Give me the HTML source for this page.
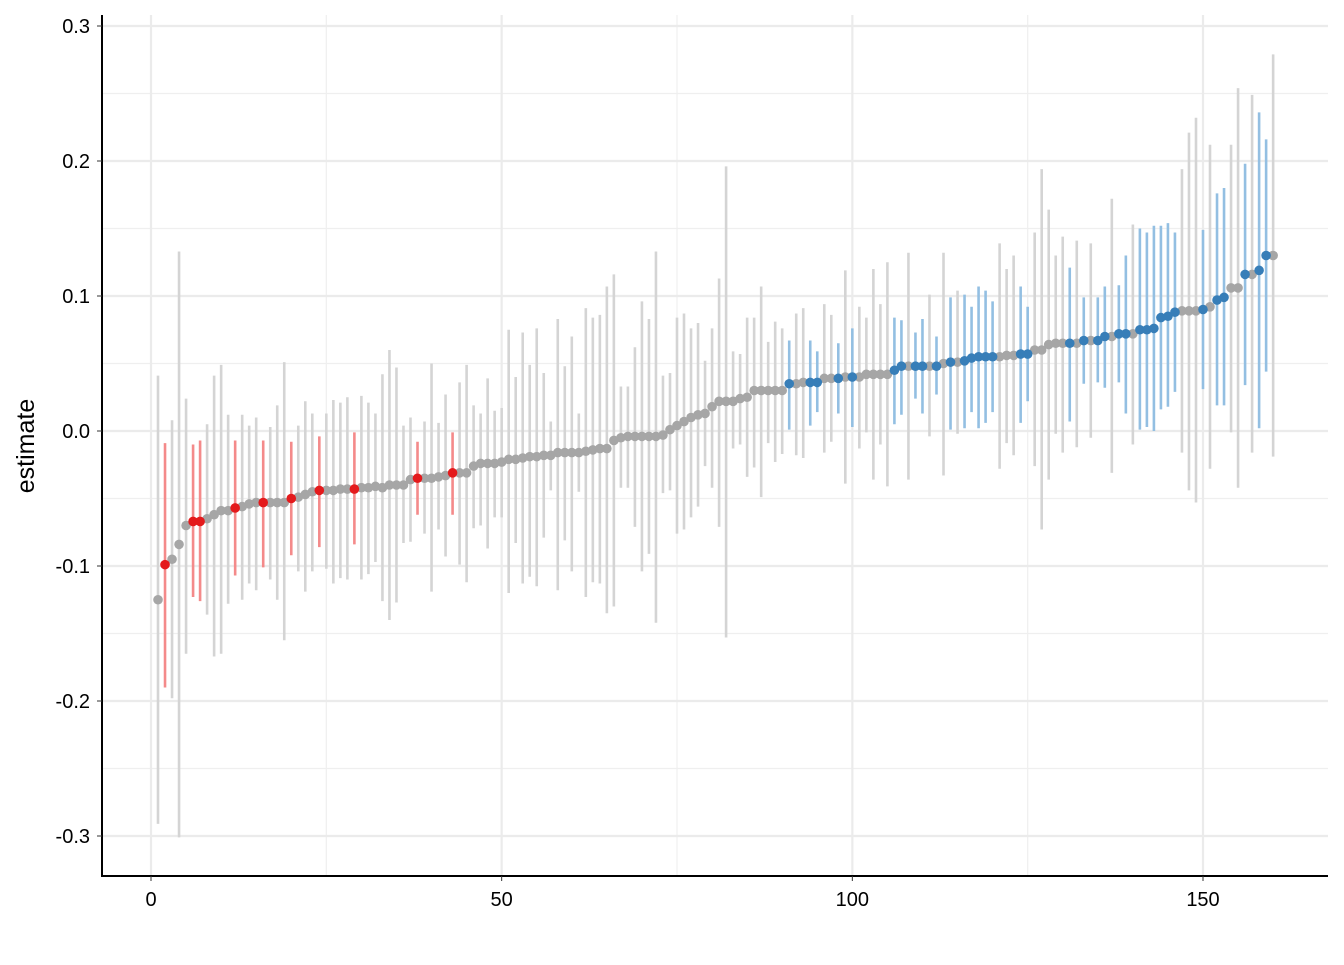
<!DOCTYPE html>
<html><head><meta charset="utf-8"><style>
body{margin:0;background:#fff;}
svg text{font-family:"Liberation Sans",sans-serif;}
</style></head><body>
<svg id="chart" width="1344" height="960" xmlns="http://www.w3.org/2000/svg"></svg>
<script>
const est=[-0.125,-0.099,-0.095,-0.084,-0.070,-0.067,-0.067,-0.065,-0.062,-0.059,-0.059,-0.057,-0.056,-0.054,-0.053,-0.053,-0.053,-0.053,-0.053,-0.050,-0.049,-0.047,-0.045,-0.044,-0.044,-0.044,-0.043,-0.043,-0.043,-0.042,-0.042,-0.041,-0.042,-0.040,-0.040,-0.040,-0.036,-0.035,-0.035,-0.035,-0.034,-0.033,-0.031,-0.031,-0.031,-0.026,-0.024,-0.024,-0.024,-0.023,-0.021,-0.021,-0.020,-0.019,-0.019,-0.018,-0.018,-0.016,-0.016,-0.016,-0.016,-0.015,-0.014,-0.013,-0.013,-0.007,-0.005,-0.004,-0.004,-0.004,-0.004,-0.004,-0.003,0.001,0.004,0.007,0.010,0.012,0.013,0.018,0.022,0.022,0.022,0.024,0.025,0.030,0.030,0.030,0.030,0.030,0.035,0.035,0.036,0.036,0.036,0.039,0.039,0.039,0.040,0.040,0.040,0.042,0.042,0.042,0.042,0.045,0.048,0.048,0.048,0.048,0.048,0.048,0.050,0.051,0.051,0.052,0.054,0.055,0.055,0.055,0.055,0.056,0.056,0.057,0.057,0.060,0.060,0.064,0.065,0.065,0.065,0.065,0.067,0.067,0.067,0.070,0.070,0.072,0.072,0.072,0.075,0.075,0.076,0.084,0.085,0.088,0.089,0.089,0.089,0.090,0.092,0.097,0.099,0.106,0.106,0.116,0.116,0.119,0.130,0.130];
const lower=[-0.291,-0.190,-0.198,-0.301,-0.165,-0.123,-0.126,-0.136,-0.167,-0.165,-0.128,-0.107,-0.125,-0.113,-0.118,-0.101,-0.110,-0.125,-0.155,-0.092,-0.104,-0.119,-0.104,-0.086,-0.102,-0.113,-0.109,-0.110,-0.084,-0.110,-0.106,-0.097,-0.126,-0.140,-0.127,-0.083,-0.082,-0.062,-0.076,-0.119,-0.073,-0.093,-0.062,-0.099,-0.112,-0.072,-0.070,-0.087,-0.064,-0.064,-0.120,-0.083,-0.113,-0.108,-0.115,-0.079,-0.044,-0.118,-0.081,-0.104,-0.045,-0.123,-0.112,-0.113,-0.135,-0.130,-0.042,-0.042,-0.071,-0.104,-0.091,-0.142,-0.046,-0.044,-0.076,-0.073,-0.064,-0.056,-0.026,-0.042,-0.071,-0.153,-0.013,-0.010,-0.034,-0.027,-0.049,-0.009,-0.023,-0.017,0.001,-0.018,-0.020,0.004,0.014,-0.016,-0.008,0.013,-0.039,0.003,-0.013,-0.001,-0.036,-0.010,-0.041,0.005,0.012,-0.036,0.024,0.013,-0.004,0.027,-0.033,0.001,-0.002,0.002,0.014,0.002,0.006,0.014,-0.028,-0.009,-0.018,0.006,0.022,-0.026,-0.073,-0.036,-0.002,-0.016,0.007,-0.012,0.035,-0.005,0.036,0.032,-0.031,0.036,0.013,-0.010,0.001,0.003,0.000,0.016,0.018,0.029,-0.016,-0.044,-0.053,0.031,-0.028,0.019,0.019,-0.001,-0.042,0.034,-0.016,0.002,0.044,-0.019];
const upper=[0.041,-0.009,0.008,0.133,0.024,-0.010,-0.007,0.005,0.041,0.049,0.012,-0.007,0.012,0.004,0.010,-0.007,0.003,0.019,0.051,-0.008,0.004,0.022,0.013,-0.004,0.013,0.023,0.021,0.025,-0.001,0.026,0.021,0.013,0.042,0.060,0.047,0.004,0.010,-0.008,0.007,0.050,0.006,0.027,-0.001,0.036,0.049,0.019,0.013,0.039,0.015,0.017,0.075,0.040,0.073,0.049,0.076,0.043,0.007,0.083,0.048,0.070,0.013,0.091,0.084,0.086,0.107,0.116,0.033,0.033,0.062,0.096,0.083,0.133,0.041,0.043,0.084,0.087,0.076,0.080,0.052,0.076,0.113,0.196,0.059,0.057,0.084,0.084,0.107,0.066,0.081,0.076,0.067,0.087,0.091,0.067,0.059,0.094,0.086,0.065,0.119,0.076,0.092,0.084,0.120,0.094,0.125,0.084,0.082,0.132,0.073,0.083,0.101,0.070,0.132,0.099,0.104,0.101,0.092,0.107,0.104,0.096,0.139,0.120,0.130,0.107,0.092,0.147,0.194,0.164,0.130,0.144,0.121,0.141,0.099,0.139,0.099,0.107,0.172,0.108,0.130,0.153,0.150,0.147,0.152,0.152,0.154,0.147,0.194,0.221,0.232,0.149,0.212,0.176,0.180,0.212,0.254,0.198,0.249,0.236,0.216,0.279];
const redIdx=[2,6,7,12,16,20,24,29,38,43];
const blueIdx=[91,94,95,98,100,106,107,109,110,112,114,116,117,118,119,120,124,125,131,133,135,136,138,139,141,142,143,144,145,146,150,152,153,156,158,159];
const xTicks=[0,50,100,150];
const yTicks=[-0.3,-0.2,-0.1,0.0,0.1,0.2,0.3];
const yTickLabels=["-0.3","-0.2","-0.1","0.0","0.1","0.2","0.3"];

const NS="http://www.w3.org/2000/svg";
const svg=document.getElementById('chart');
const X=v=>151+v*(1052/150);
const Y=v=>431-v*1350;
const L=102,R=1328,T=15,B=876;
function mk(tag,attrs,parent){const e=document.createElementNS(NS,tag);for(const k in attrs)e.setAttribute(k,attrs[k]);(parent||svg).appendChild(e);return e;}

const grid=mk('g',{});


for(let v=-0.35;v<=0.351;v+=0.1){const y=Y(v);if(y>T&&y<B)mk('line',{x1:L,x2:R,y1:y,y2:y,stroke:'#efefef','stroke-width':1.2},grid);}
for(const v of [25,75,125])mk('line',{x1:X(v),x2:X(v),y1:T,y2:B,stroke:'#efefef','stroke-width':1.2},grid);
yTicks.forEach(v=>mk('line',{x1:L,x2:R,y1:Y(v),y2:Y(v),stroke:'#ebebeb','stroke-width':2.2},grid));
xTicks.forEach(v=>mk('line',{x1:X(v),x2:X(v),y1:T,y2:B,stroke:'#ebebeb','stroke-width':2.2},grid));

function grp(i){return redIdx.includes(i)?1:(blueIdx.includes(i)?2:0);}
const barCol=['#d4d4d4','#f48a8a','#93bfe2'];
const ptCol=['#a6a6a6','#e41a1c','#377eb8'];
const bars=mk('g',{});


est.forEach((v,k)=>{const i=k+1;const l=mk('line',{x1:X(i),x2:X(i),y1:Y(lower[k]),y2:Y(upper[k]),stroke:barCol[grp(i)],'stroke-width':2.6},bars);

});
const pts=mk('g',{});


[0,1,2].forEach(g=>{est.forEach((v,k)=>{const i=k+1;if(grp(i)!==g)return;const c=mk('circle',{cx:X(i),cy:Y(v),r:4.8,fill:ptCol[g]},pts);

});});

const ax=mk('g',{});


mk('line',{x1:L,x2:L,y1:T,y2:B+1,stroke:'#000','stroke-width':2},ax);
mk('line',{x1:L-1,x2:R,y1:B,y2:B,stroke:'#000','stroke-width':2},ax);
yTicks.forEach((v,k)=>{mk('line',{x1:L-5,x2:L,y1:Y(v),y2:Y(v),stroke:'#333','stroke-width':1},ax);
const t=mk('text',{x:L-12,y:Y(v)+7,'text-anchor':'end','font-size':20,fill:'#000'},ax);t.textContent=yTickLabels[k];

});
xTicks.forEach(v=>{mk('line',{x1:X(v),x2:X(v),y1:B,y2:B+5,stroke:'#333','stroke-width':1},ax);
const t=mk('text',{x:X(v),y:906,'text-anchor':'middle','font-size':20,fill:'#000'},ax);t.textContent=String(v);

});
const yt=mk('text',{x:34,y:446,'text-anchor':'middle','font-size':25,fill:'#000',transform:'rotate(-90 34 446)'});
yt.textContent='estimate';


</script>
</body></html>
